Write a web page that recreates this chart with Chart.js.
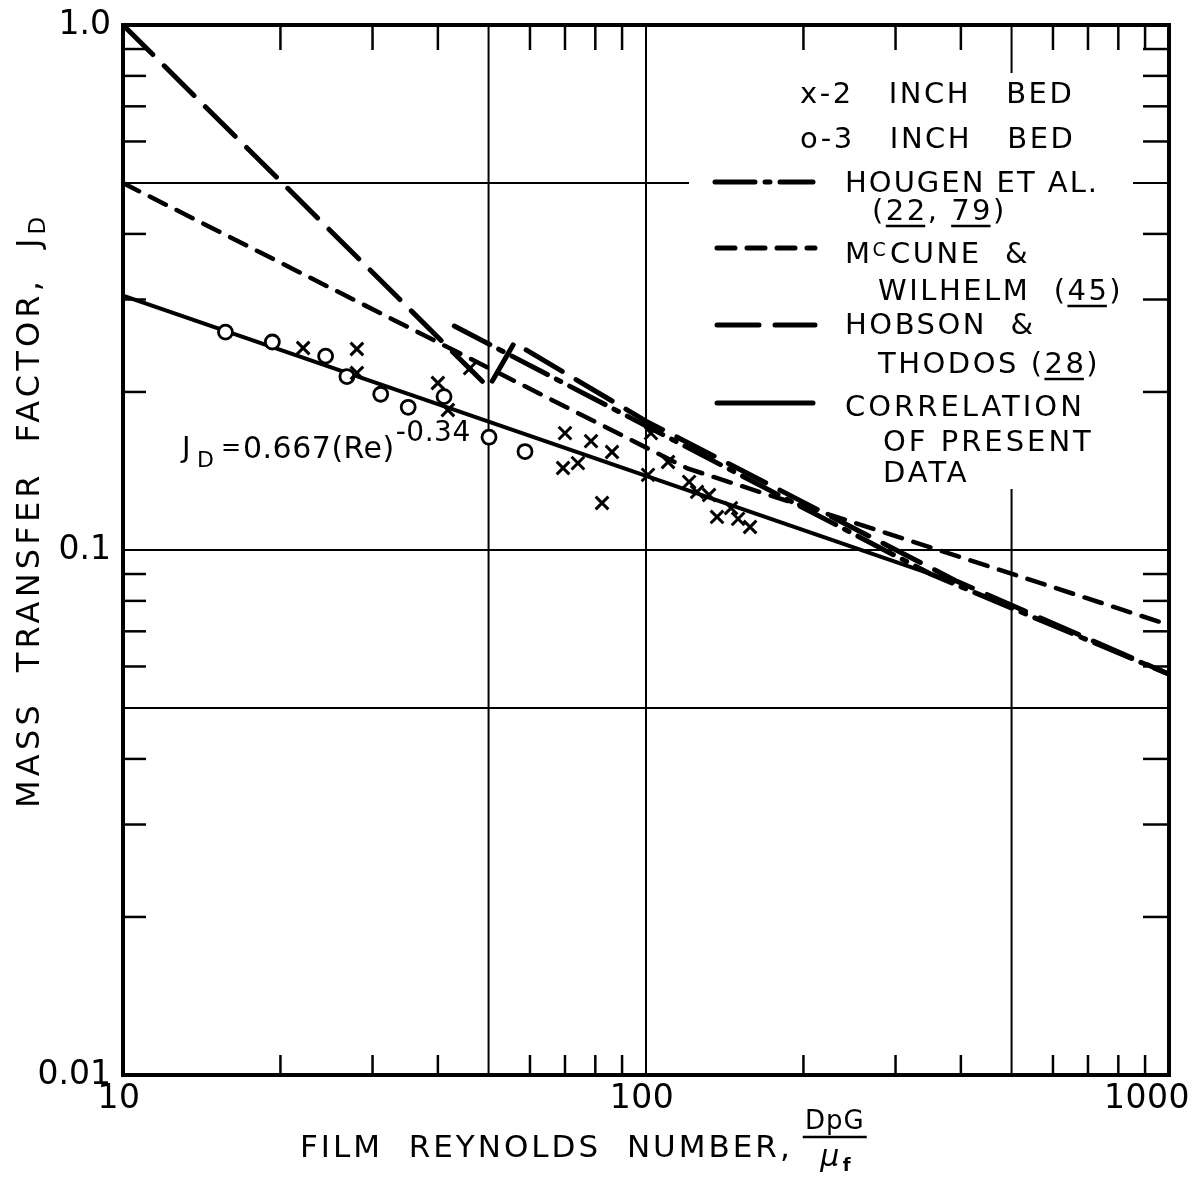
<!DOCTYPE html>
<html>
<head>
<meta charset="utf-8">
<script src="https://cdn.jsdelivr.net/npm/chart.js@4.4.1/dist/chart.umd.min.js"></script>
<style>
  html, body { margin: 0; background: #fff; }
  #wrap { width: 1197px; height: 1180px; }
</style>
</head>
<body>
<div id="wrap"><canvas id="jdChart" width="1197" height="1180"></canvas></div>
<script>
const FONT = '"DejaVu Sans", sans-serif';

// axes
const xTickValues = [10, 100, 1000];
const xTickLabels = ['10', '100', '1000'];
const yTickValues = [0.01, 0.1, 1];
const yTickLabels = ['0.01', '0.1', '1.0'];
const xMinorTicks = [20, 30, 40, 60, 70, 80, 90, 200, 300, 400, 600, 700, 800, 900];
const yMinorTicks = [0.02, 0.03, 0.04, 0.06, 0.07, 0.08, 0.09, 0.2, 0.3, 0.4, 0.6, 0.7, 0.8, 0.9];
const xGridValues = [50, 100, 500];
const yGridValues = [0.05, 0.1, 0.5];

// x - 2 inch bed
const re2in = [22.1, 28.0, 28.0, 40.0, 41.8, 46.1, 69.4, 70.0, 74.1, 78.5, 82.4, 86.1,
               100.9, 102.2, 110.2, 120.9, 125.2, 132.0, 136.7, 145.4, 150.0, 158.1];
const jd2in = [0.2425, 0.2415, 0.2174, 0.208, 0.1848, 0.222, 0.1433, 0.167, 0.1464, 0.1612, 0.1229, 0.1537,
               0.139, 0.167, 0.1471, 0.1348, 0.129, 0.1273, 0.1156, 0.1202, 0.1146, 0.1106];

// o - 3 inch bed
const re3in = [15.7, 19.3, 24.4, 26.8, 31.1, 35.1, 41.1, 50.1, 58.7];
const jd3in = [0.260, 0.249, 0.234, 0.214, 0.198, 0.187, 0.196, 0.164, 0.154];

// curves (break points)
const hougenRe = [43, 350, 1000];
const hougenJd = [0.267, 0.090, 0.058];
const mccuneRe = [10, 120, 1000];
const mccuneJd = [0.50, 0.143, 0.072];
const hobsonRe = [10, 50, 56, 100, 390, 1000];
const hobsonJd = [1.0, 0.204, 0.248, 0.176, 0.0875, 0.058];
const corrRe = [10, 390];
const corrJd = [0.305, 0.0868];

const DASH_HOUGEN = [40, 10, 5, 10];
const DASH_MCCUNE = [18, 12];
const DASH_HOBSON = [42, 16];

function pts(xs, ys) {
    return xs.map((v, i) => ({ x: v, y: ys[i] }));
}

function txt(ctx, str, x, y, size, spacing) {
    ctx.font = size + 'px ' + FONT;
    ctx.letterSpacing = (spacing || 0) + 'px';
    ctx.fillText(str, x, y);
    const w = ctx.measureText(str).width;
    ctx.letterSpacing = '0px';
    return w;
}

function textWidth(ctx, str, size, spacing) {
    ctx.font = size + 'px ' + FONT;
    ctx.letterSpacing = (spacing || 0) + 'px';
    const w = ctx.measureText(str).width;
    ctx.letterSpacing = '0px';
    return w;
}

// underline a part of a string already drawn at x
function underline(ctx, str, part, x, y, size, spacing) {
    const i = str.indexOf(part);
    const x0 = x + textWidth(ctx, str.slice(0, i), size, spacing);
    const x1 = x0 + textWidth(ctx, part, size, spacing) - spacing;
    ctx.lineWidth = 2.5;
    ctx.beginPath();
    ctx.moveTo(x0, y);
    ctx.lineTo(x1, y);
    ctx.stroke();
}

function seg(ctx, x0, y0, x1, y1) {
    ctx.beginPath();
    ctx.moveTo(x0, y0);
    ctx.lineTo(x1, y1);
    ctx.stroke();
}

const decor = {
    id: 'decor',
    beforeDatasetsDraw(chart) {
        const { ctx, chartArea: a, scales: { x, y } } = chart;
        ctx.save();
        ctx.strokeStyle = '#000';
        ctx.lineWidth = 2;
        xGridValues.forEach(v => {
            const px = x.getPixelForValue(v);
            seg(ctx, px, a.top, px, a.bottom);
        });
        yGridValues.forEach(v => {
            const py = y.getPixelForValue(v);
            seg(ctx, a.left, py, a.right, py);
        });
        // legend backing hides the grid behind it
        ctx.fillStyle = '#fff';
        ctx.fillRect(689, 73, 444, 416);

        ctx.lineWidth = 2.5;
        xMinorTicks.forEach(v => {
            const px = x.getPixelForValue(v);
            seg(ctx, px, a.top, px, a.top + 25);
            seg(ctx, px, a.bottom, px, a.bottom - 20);
        });
        yMinorTicks.forEach(v => {
            const py = y.getPixelForValue(v);
            seg(ctx, a.left, py, a.left + 23, py);
            seg(ctx, a.right, py, a.right - 26, py);
        });
        ctx.restore();
    },
    afterDatasetsDraw(chart) {
        const { ctx, chartArea: a } = chart;
        ctx.save();
        ctx.strokeStyle = '#000';
        ctx.lineWidth = 4;
        ctx.strokeRect(a.left, a.top, a.right - a.left, a.bottom - a.top);
        ctx.restore();
    },
    afterDraw(chart) {
        const { ctx, chartArea: a, scales: { x } } = chart;
        ctx.save();
        ctx.fillStyle = '#000';
        ctx.strokeStyle = '#000';

        // x tick labels (last one pulled inside like the original)
        ctx.textBaseline = 'middle';
        xTickValues.forEach((v, i) => {
            const last = i === xTickValues.length - 1;
            ctx.textAlign = last ? 'right' : 'center';
            const px = last ? a.right + 21 : x.getPixelForValue(v) - 4;
            txt(ctx, xTickLabels[i], px, a.bottom + 24, 33, 0.5);
        });

        ctx.textAlign = 'left';
        ctx.textBaseline = 'alphabetic';

        // legend
        const fs = 29, ls = 2.5;
        txt(ctx, 'x-2   INCH   BED', 800, 103, fs, ls);
        txt(ctx, 'o-3   INCH   BED', 800, 148, fs, ls);

        ctx.lineWidth = 5;
        ctx.lineCap = 'round';
        ctx.setLineDash(DASH_HOUGEN);
        seg(ctx, 715, 182, 813, 182);
        ctx.setLineDash(DASH_MCCUNE);
        seg(ctx, 717, 248, 815, 248);
        ctx.setLineDash(DASH_HOBSON);
        seg(ctx, 717, 325, 815, 325);
        ctx.setLineDash([]);
        seg(ctx, 717, 403, 813, 403);
        ctx.lineCap = 'butt';

        txt(ctx, 'HOUGEN ET AL.', 845, 192, fs, 2);
        const s22 = '(22, 79)';
        txt(ctx, s22, 872, 220, fs, ls);
        underline(ctx, s22, '22', 872, 226, fs, ls);
        underline(ctx, s22, '79', 872, 226, fs, ls);

        const mw = txt(ctx, 'M', 845, 263, fs, ls);
        txt(ctx, 'C', 845 + mw, 256, 19, 0);
        txt(ctx, 'CUNE  &', 890, 263, fs, ls);
        const s45 = 'WILHELM  (45)';
        txt(ctx, s45, 878, 300, fs, ls);
        underline(ctx, s45, '45', 878, 306, fs, ls);

        txt(ctx, 'HOBSON  &', 845, 334, fs, ls);
        const s28 = 'THODOS (28)';
        txt(ctx, s28, 878, 373, fs, ls);
        underline(ctx, s28, '28', 878, 379, fs, ls);

        txt(ctx, 'CORRELATION', 845, 416, fs, 3);
        txt(ctx, 'OF PRESENT', 883, 451, fs, 3);
        txt(ctx, 'DATA', 883, 482, fs, 3);

        // correlation equation
        txt(ctx, 'J', 182, 457, 29, 0);
        txt(ctx, 'D', 197, 467, 22, 0);
        txt(ctx, '=', 221, 455, 24, 0);
        const ew = txt(ctx, '0.667(Re)', 243, 458, 30, 0.5);
        txt(ctx, '-0.34', 243 + ew + 1, 441, 28, 0.5);

        // x axis title
        const tw = txt(ctx, 'FILM  REYNOLDS  NUMBER,', 300, 1157, 31, 3);
        const fx = 300 + tw + 10;
        ctx.textAlign = 'center';
        txt(ctx, 'DpG', fx + 32, 1129, 26, 1);
        ctx.lineWidth = 2.5;
        seg(ctx, fx, 1137, fx + 64, 1137);
        ctx.font = 'italic 30px ' + FONT;
        ctx.fillText('\u03bc', fx + 27, 1166);
        ctx.font = 'bold 18px ' + FONT;
        ctx.fillText('f', fx + 44, 1171);
        ctx.textAlign = 'left';

        // y axis title
        ctx.translate(39, 808);
        ctx.rotate(-Math.PI / 2);
        const yw = txt(ctx, 'MASS  TRANSFER  FACTOR,  J', 0, 0, 32, 4.2);
        txt(ctx, 'D', yw, 6, 23, 0);
        ctx.restore();
    }
};

new Chart(document.getElementById('jdChart'), {
    type: 'scatter',
    data: {
        datasets: [
            {
                label: '2 inch bed',
                data: pts(re2in, jd2in),
                pointStyle: 'crossRot',
                pointRadius: 9,
                borderWidth: 3,
                borderColor: '#000',
                backgroundColor: '#000'
            },
            {
                label: '3 inch bed',
                data: pts(re3in, jd3in),
                pointStyle: 'circle',
                pointRadius: 7,
                borderWidth: 2.8,
                borderColor: '#000',
                backgroundColor: '#fff'
            },
            {
                label: 'Hougen et al. (22, 79)',
                data: pts(hougenRe, hougenJd),
                showLine: true,
                pointRadius: 0,
                borderColor: '#000',
                borderWidth: 5,
                borderDash: DASH_HOUGEN,
                borderCapStyle: 'round'
            },
            {
                label: 'McCune & Wilhelm (45)',
                data: pts(mccuneRe, mccuneJd),
                showLine: true,
                pointRadius: 0,
                borderColor: '#000',
                borderWidth: 4.5,
                borderDash: DASH_MCCUNE,
                borderCapStyle: 'round'
            },
            {
                label: 'Hobson & Thodos (28)',
                data: pts(hobsonRe, hobsonJd),
                showLine: true,
                pointRadius: 0,
                borderColor: '#000',
                borderWidth: 5,
                borderDash: DASH_HOBSON,
                borderCapStyle: 'round'
            },
            {
                label: 'Correlation of present data',
                data: pts(corrRe, corrJd),
                showLine: true,
                pointRadius: 0,
                borderColor: '#000',
                borderWidth: 4
            }
        ]
    },
    options: {
        responsive: false,
        animation: false,
        layout: { padding: { top: 25, right: 28, left: 0, bottom: 0 } },
        plugins: {
            legend: { display: false },
            tooltip: { enabled: false }
        },
        scales: {
            x: {
                type: 'logarithmic',
                min: 10,
                max: 1000,
                afterBuildTicks: s => { s.ticks = xTickValues.map(v => ({ value: v })); },
                afterFit: s => { s.height = 105; s.paddingLeft = 0; s.paddingRight = 0; },
                grid: { display: false, drawTicks: false },
                border: { display: false },
                ticks: { display: false }
            },
            y: {
                type: 'logarithmic',
                min: 0.01,
                max: 1,
                afterBuildTicks: s => { s.ticks = yTickValues.map(v => ({ value: v })); },
                afterFit: s => { s.width = 123; s.paddingTop = 0; s.paddingBottom = 0; },
                grid: { display: false, drawTicks: false },
                border: { display: false },
                ticks: {
                    callback: v => yTickLabels[yTickValues.indexOf(v)],
                    font: { family: FONT, size: 33 },
                    color: '#000',
                    padding: 12,
                    autoSkip: false
                }
            }
        }
    },
    plugins: [decor]
});
</script>
</body>
</html>
